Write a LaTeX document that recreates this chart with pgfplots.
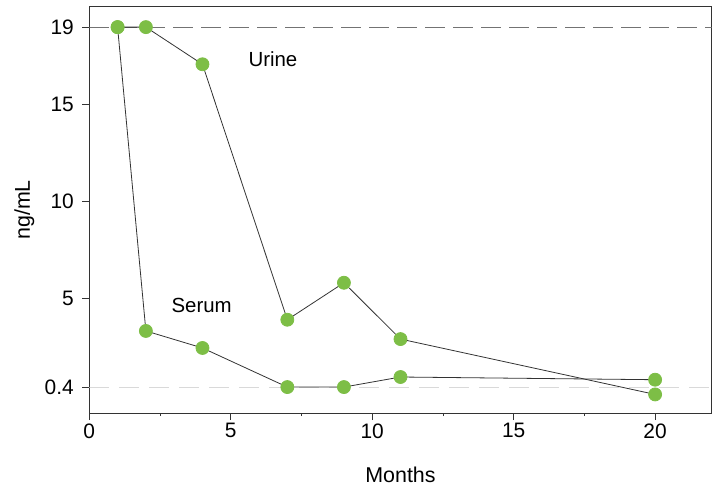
\documentclass[border=0pt]{standalone}
\usepackage{fontspec}
\setmainfont{Liberation Sans}
\usepackage{pgfplots}
\pgfplotsset{compat=1.18}
\definecolor{mk}{RGB}{125,190,70}
\begin{document}
\begin{tikzpicture}
\begin{axis}[
 at={(0,0)}, anchor=south west,
 scale only axis, width=622.4bp, height=406bp,
 xmin=0, xmax=22, ymin=-0.94, ymax=20.04,
 axis line style={line width=1pt, black!80},
 xtick={0,5,10,15,20}, minor xtick={2.5,7.5,12.5,17.5},
 ytick={0.4,5,10,15,19}, yticklabels={0.4,5,10,15,19},
 tick align=outside, tick pos=left,
 major tick length=7bp, minor tick length=3bp,
 tick style={black!80, line width=0.8pt},
 /pgf/number format/assume math mode=true,
 ticklabel style={font=\fontsize{21}{25}\selectfont},
 yticklabel style={xshift=-5bp},
 xlabel={Months}, ylabel={ng/mL},
 label style={font=\fontsize{21.5}{25}\selectfont},
 xlabel style={at={(axis description cs:0.5,-0.1700)}, anchor=base},
 ylabel style={at={(axis description cs:-0.1044,0.5)}, anchor=center},
]
\addplot[black!55, line width=1bp, dash pattern=on 20bp off 8bp] coordinates {(0,19) (22,19)};
\addplot[black!15, line width=1bp, dash pattern=on 20bp off 10bp] coordinates {(0,0.4) (22,0.4)};
\addplot[black!80, line width=0.8bp, mark=*, mark size=6.5bp, mark options={fill=mk, draw=mk}] coordinates {(1,19) (2,3.3) (4,2.42) (7,0.4) (9,0.4) (11,0.92) (20,0.78)};
\addplot[black!80, line width=0.8bp, mark=*, mark size=6.5bp, mark options={fill=mk, draw=mk}] coordinates {(1,19) (2,19) (4,17.08) (7,3.88) (9,5.79) (11,2.88) (20,0.02)};
\node[font=\fontsize{20.5}{24}\selectfont] at (axis cs:6.49,17.35) {Urine};
\node[font=\fontsize{20.5}{24}\selectfont] at (axis cs:3.97,4.64) {Serum};
\end{axis}
\pgfresetboundingbox
\path[use as bounding box] (-89.3bp,-74bp) rectangle (622.7bp,413bp);
\end{tikzpicture}
\end{document}
